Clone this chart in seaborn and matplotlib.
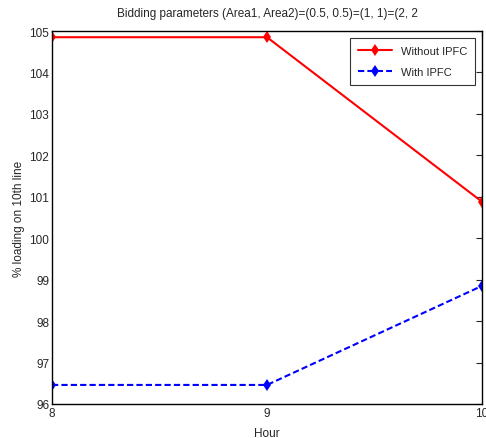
import matplotlib
matplotlib.use("Agg")
import matplotlib.pyplot as plt
import seaborn as sns
import pandas as pd

hours = [8, 9, 10]
without_ipfc = [104.85, 104.85, 100.88]
with_ipfc = [96.46, 96.46, 98.85]
yticks = [96, 97, 98, 99, 100, 101, 102, 103, 104, 105]

sns.set_style("white")
plt.rcParams['font.family'] = ['Liberation Sans', 'DejaVu Sans']

df = pd.DataFrame({
    "Hour": hours * 2,
    "val": without_ipfc + with_ipfc,
    "series": ["Without IPFC"] * 3 + ["With IPFC"] * 3,
})

fig = plt.figure(figsize=(4.86, 4.39), dpi=100)
ax = fig.add_axes([52/486, 1 - 405/439, 430/486, 373/439])

sns.lineplot(data=df, x="Hour", y="val", hue="series", style="series",
             palette={"Without IPFC": "red", "With IPFC": "blue"},
             dashes={"Without IPFC": "", "With IPFC": (3, 1.5)},
             markers={"Without IPFC": "d", "With IPFC": "d"},
             markersize=6, markeredgewidth=0, linewidth=1.5, ax=ax)

ax.set_xlim(8, 10)
ax.set_ylim(96, 105)
ax.set_xticks(hours)
ax.set_yticks(yticks)
ax.tick_params(direction="in", top=True, right=True, labelsize=8.5, length=4, width=0.8, pad=2)
for s in ax.spines.values():
    s.set_color("black")
    s.set_linewidth(1.0)
ax.set_xlabel("Hour", fontsize=8.5, labelpad=6)
ax.set_ylabel("% loading on 10th line", fontsize=8.5, labelpad=3)
ax.set_title("Bidding parameters (Area1, Area2)=(0.5, 0.5)=(1, 1)=(2, 2", fontsize=8.5, pad=11)

leg = ax.legend(loc="upper right", fontsize=8, frameon=True, fancybox=False,
                edgecolor="black", handlelength=3, borderaxespad=0.6,
                labelspacing=1.0, borderpad=0.75)
leg.get_frame().set_linewidth(0.8)

fig.savefig("out.png", dpi=100)
